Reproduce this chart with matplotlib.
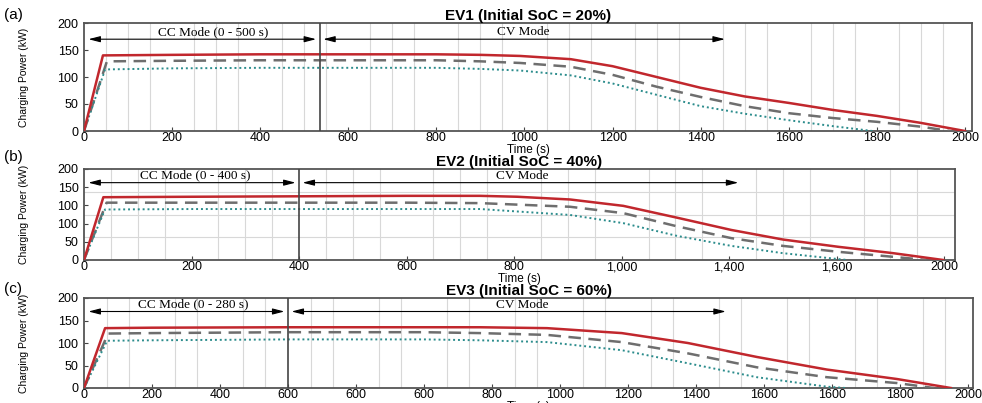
import matplotlib
matplotlib.use("Agg")
import matplotlib.pyplot as plt
from matplotlib.ticker import MultipleLocator, FixedLocator

plt.rcParams['font.family'] = ['Liberation Sans', 'DejaVu Sans']

# ---- data (time in axis units, power in kW) ----
# EV1, initial SoC 20 %
ev1_t_red = [0, 43, 200, 400, 600, 800, 900, 990, 1105, 1200, 1300, 1400, 1500, 1600, 1700, 1800, 1900, 2000]
ev1_p_red = [0, 140, 141, 142, 142, 142, 141, 139, 133, 120, 100, 80, 64, 52, 39, 28, 15, 0]
ev1_t_gray = [0, 52, 200, 400, 600, 800, 900, 990, 1105, 1200, 1300, 1400, 1500, 1600, 1700, 1800, 1900, 1965]
ev1_p_gray = [0, 129, 130, 131, 131, 131, 129, 126, 119, 104, 82, 63, 46, 33, 24, 17, 8, 0]
ev1_t_teal = [0, 48, 200, 400, 600, 800, 900, 990, 1105, 1200, 1300, 1400, 1500, 1600, 1700, 1790]
ev1_p_teal = [0, 114, 116, 117, 117, 117, 115, 112, 103, 88, 67, 46, 32, 20, 9, 0]

# EV2, initial SoC 40 %
ev2_t_red = [0, 36, 200, 400, 600, 737, 806, 904, 1003, 1103, 1204, 1300, 1403, 1505, 1598]
ev2_p_red = [0, 138, 139, 140, 141, 141, 139, 133, 119, 93, 66, 45, 29, 15, 0]
ev2_t_gray = [0, 42, 200, 400, 600, 737, 904, 1003, 1103, 1204, 1300, 1403, 1505, 1567]
ev2_p_gray = [0, 126, 126, 126, 126, 125, 117, 103, 74, 48, 31, 18, 7, 0]
ev2_t_teal = [0, 39, 200, 400, 600, 737, 904, 1003, 1103, 1204, 1300, 1403, 1420]
ev2_p_teal = [0, 111, 112, 112, 112, 112, 99, 81, 53, 31, 15, 2, 0]

# EV3, initial SoC 60 %
ev3_t_red = [0, 62, 200, 600, 1000, 1165, 1362, 1582, 1776, 1979, 2185, 2391, 2550]
ev3_p_red = [0, 133, 134, 135, 135, 135, 133, 122, 100, 69, 41, 20, 0]
ev3_t_gray = [0, 71, 200, 600, 1000, 1165, 1362, 1582, 1776, 1979, 2185, 2391, 2500]
ev3_p_gray = [0, 121, 122, 124, 124, 122, 118, 102, 77, 46, 24, 11, 0]
ev3_t_teal = [0, 68, 200, 600, 1000, 1165, 1362, 1582, 1776, 1979, 2185, 2240]
ev3_p_teal = [0, 105, 106, 108, 108, 106, 102, 84, 55, 24, 3, 0]

# tick labels as printed in the figure
ev1_xticklabels = ['0', '200', '400', '600', '800', '1000', '1200', '1400', '1600', '1800', '2000']
ev2_xticklabels = ['0', '200', '400', '600', '800', '1,000', '1,400', '1,600', '2000']
ev3_xticklabels = ['0', '200', '400', '600', '600', '600', '800', '1000', '1200', '1400',
                   '1600', '1600', '1800', '2000']
ev1_yticklabels = ['0', '50', '100', '150', '200']
ev2_yticklabels = ['0', '50', '100', '100', '150', '200']
ev3_yticklabels = ['0', '50', '100', '150', '200']

titles = ['EV1 (Initial SoC = 20%)', 'EV2 (Initial SoC = 40%)', 'EV3 (Initial SoC = 60%)']
panel_tags = ['(a)', '(b)', '(c)']
cc_labels = ['CC Mode (0 - 500 s)', 'CC Mode (0 - 400 s)', 'CC Mode (0 - 280 s)']
mode_switch = [535, 400, 600]
cv_arrow_end = [1455, 1217, 1888]
cc_text_x = [294, 206, 320]
cv_text_x = [998, 815, 1288]

RED = '#c1272d'
GRAY = '#6e6e6e'
TEAL = '#2b8c8c'
W, H = 982, 403

fig = plt.figure(figsize=(9.82, 4.03), dpi=100)


def px_axes(left, top, right, bottom):
    return fig.add_axes([left / W, 1 - bottom / H, (right - left) / W, (bottom - top) / H])


def draw_panel(ax, t_r, p_r, t_g, p_g, t_b, p_b, xlim, xticks, xlabels, yticks, ylabels,
               xminor, i):
    ax.set_xlim(0, xlim)
    ax.set_ylim(0, 200)
    ax.xaxis.set_major_locator(FixedLocator(xticks))
    ax.set_xticklabels(xlabels)
    ax.yaxis.set_major_locator(FixedLocator(yticks))
    ax.set_yticklabels(ylabels)
    ax.xaxis.set_minor_locator(MultipleLocator(xminor))
    ax.yaxis.set_minor_locator(MultipleLocator(50))
    ax.grid(which='minor', color='#d8d8d8', lw=0.8)
    ax.grid(which='major', visible=False)
    ax.set_axisbelow(True)
    ax.tick_params(which='major', direction='in', length=3, labelsize=9, color='#444')
    ax.tick_params(axis='x', which='major', pad=1)
    ax.tick_params(axis='y', which='major', pad=4)
    ax.tick_params(which='minor', length=0)
    for s in ax.spines.values():
        s.set_color('#555555')
        s.set_linewidth(1.3)

    ax.plot(t_r, p_r, color=RED, lw=1.8, zorder=4)
    ax.plot(t_g, p_g, color=GRAY, lw=1.8, dashes=(5, 3), zorder=3)
    ax.plot(t_b, p_b, color=TEAL, lw=1.4, ls=(0, (1, 1.5)), zorder=3)

    sw = mode_switch[i]
    ax.axvline(sw, color='#444444', lw=1.2, zorder=5)
    arr = dict(arrowstyle='<|-|>,head_length=0.7,head_width=0.18', color='black', lw=0.8,
               shrinkA=0, shrinkB=0)
    ax.annotate('', xy=(xlim * 0.005, 170), xytext=(sw - xlim * 0.004, 170), arrowprops=arr)
    ax.annotate('', xy=(sw + xlim * 0.004, 170), xytext=(cv_arrow_end[i], 170), arrowprops=arr)
    ax.text(cc_text_x[i], 172, cc_labels[i], ha='center', va='bottom', fontsize=9.5,
            family=['Liberation Serif', 'DejaVu Serif'])
    ax.text(cv_text_x[i], 172, 'CV Mode', ha='center', va='bottom', fontsize=9.5,
            family=['Liberation Serif', 'DejaVu Serif'])

    ax.set_title(titles[i], fontsize=11, fontweight='bold', pad=-2)
    ax.set_ylabel('Charging Power (kW)', fontsize=7.5,
                  family=['Liberation Sans Narrow', 'Liberation Sans', 'DejaVu Sans'])
    ax.set_xlabel('Time (s)', fontsize=8.5, labelpad=-0.5)


ax1 = px_axes(84, 23, 972, 131)
draw_panel(ax1, ev1_t_red, ev1_p_red, ev1_t_gray, ev1_p_gray, ev1_t_teal, ev1_p_teal,
           2016, list(range(0, 2001, 200)), ev1_xticklabels, [0, 50, 100, 150, 200],
           ev1_yticklabels, 50, 0)

ax2 = px_axes(84, 169, 955, 260)
draw_panel(ax2, ev2_t_red, ev2_p_red, ev2_t_gray, ev2_p_gray, ev2_t_teal, ev2_p_teal,
           1620, list(range(0, 1601, 200)), ev2_xticklabels, [0, 40, 80, 120, 160, 200],
           ev2_yticklabels, 50, 1)

ax3 = px_axes(84, 298, 973, 388)
draw_panel(ax3, ev3_t_red, ev3_p_red, ev3_t_gray, ev3_p_gray, ev3_t_teal, ev3_p_teal,
           2615, list(range(0, 2601, 200)), ev3_xticklabels, [0, 50, 100, 150, 200],
           ev3_yticklabels, 200 / 3, 2)

for ax in [ax1, ax2, ax3]:
    ax.yaxis.set_label_coords((29 - 84) / (ax.get_position().width * W), 0.5)

for tag, y in zip(panel_tags, [15, 157, 289]):
    fig.text(4 / W, 1 - y / H, tag, fontsize=11, va='center', ha='left')

fig.savefig('out.png', dpi=100)
